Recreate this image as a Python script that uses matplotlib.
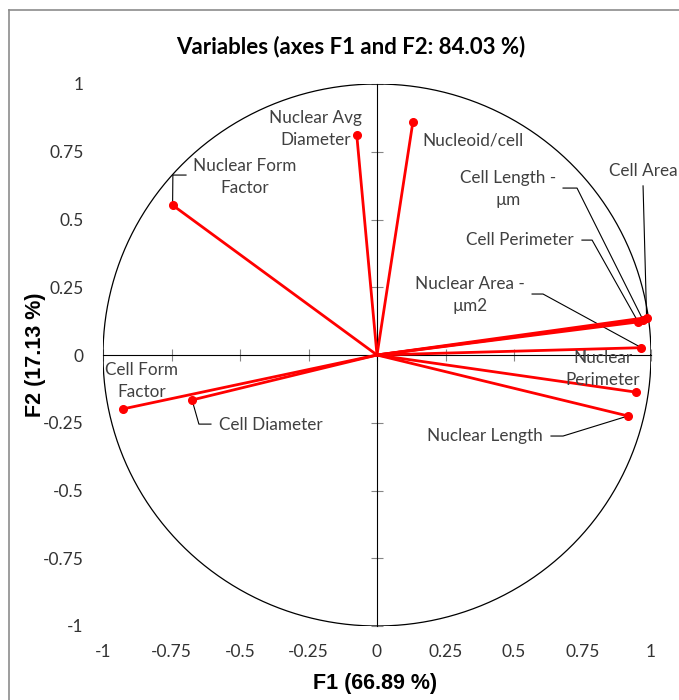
import numpy as np
import matplotlib
matplotlib.use("Agg")
import matplotlib.pyplot as plt
from matplotlib.lines import Line2D

# correlations of each variable with F1 / F2
variables = ["Nucleoid/cell", "Nuclear Avg\nDiameter", "Nuclear Form\nFactor",
             "Cell Form\nFactor", "Cell Diameter", "Cell Area", "Cell Length -\nµm",
             "Cell Perimeter", "Nuclear Area -\nµm2", "Nuclear\nPerimeter", "Nuclear Length"]
f1 = [0.131, -0.074, -0.746, -0.927, -0.675, 0.984, 0.971, 0.953, 0.965, 0.945, 0.916]
f2 = [0.860, 0.813, 0.553, -0.199, -0.166, 0.138, 0.129, 0.122, 0.027, -0.137, -0.225]

ticks = [-1, -0.75, -0.5, -0.25, 0, 0.25, 0.5, 0.75, 1]
tick_labels = ["-1", "-0.75", "-0.5", "-0.25", "0", "0.25", "0.5", "0.75", "1"]

# where the labels sit (data coords) and the bends of the leader lines
label_xy = [(0.350, 0.790), (-0.223, 0.834), (-0.482, 0.657), (-0.858, -0.096),
            (-0.387, -0.258), (0.971, 0.679), (0.478, 0.613), (0.522, 0.424),
            (0.339, 0.221), (0.825, -0.052), (0.394, -0.299)]
leaders = [None, None,
           [(-0.697, 0.664), (-0.745, 0.664)],
           None,
           [(-0.606, -0.255), (-0.650, -0.255)],
           [(0.971, 0.624)],
           [(0.679, 0.616), (0.730, 0.616)],
           [(0.748, 0.424), (0.785, 0.424)],
           [(0.566, 0.225), (0.606, 0.225)],
           None,
           [(0.635, -0.299), (0.679, -0.299)]]

txt_font = ["Lato", "DejaVu Sans"]
ttl_font = ["Liberation Sans", "DejaVu Sans"]
lab_col = "#404040"
axis_col = "#868686"

fig = plt.figure(figsize=(6.79, 7.0), dpi=100)
ax = fig.add_axes([103 / 679, 74 / 700, 548 / 679, 542 / 700])
ax.set_xlim(-1, 1)
ax.set_ylim(-1, 1)
for s in ax.spines.values():
    s.set_visible(False)

ax.set_xticks(ticks)
ax.set_yticks(ticks)
ax.set_xticklabels(tick_labels, family=txt_font, fontsize=12.5, color="#333333")
ax.set_yticklabels(tick_labels, family=txt_font, fontsize=12.5, color="#333333")
ax.tick_params(axis="x", length=0, pad=13)
ax.tick_params(axis="y", length=0, pad=14)

# axes crossing at the origin
sx = ax.secondary_xaxis(0.5)
sx.set_xticks(ticks)
sx.set_xticklabels([])
sx.tick_params(direction="inout", length=8, color=axis_col, width=0.8)
sx.spines["bottom"].set_color(axis_col)
sx.spines["bottom"].set_linewidth(0.8)
sy = ax.secondary_yaxis(0.5)
sy.set_yticks(ticks)
sy.set_yticklabels([])
sy.tick_params(direction="inout", length=8, color=axis_col, width=0.8)
sy.spines["left"].set_color(axis_col)
sy.spines["left"].set_linewidth(0.8)

# unit circle
t = np.linspace(0, 2 * np.pi, 400)
ax.plot(np.cos(t), np.sin(t), color="black", lw=0.9, zorder=2)

for i in range(len(variables)):
    ax.plot([0, f1[i]], [0, f2[i]], color="#ff0000", lw=2.0, zorder=3,
             solid_capstyle="round")
    ax.plot(f1[i], f2[i], "o", color="#ff0000", ms=5.5, zorder=4)
    if leaders[i] is not None:
        pts = leaders[i] + [(f1[i], f2[i])]
        ax.plot([p[0] for p in pts], [p[1] for p in pts], color="black",
                lw=0.8, zorder=2.5)
    ax.text(label_xy[i][0], label_xy[i][1], variables[i], ha="center", va="center",
            family=txt_font, fontsize=12.3, color=lab_col, linespacing=1.45, zorder=5)

fig.text(351 / 679, 1 - 47 / 700, "Variables (axes F1 and F2: 84.03 %)", ha="center",
         va="center", family=txt_font, fontsize=16, fontweight="bold", color="black")
fig.text(375 / 679, 1 - 683 / 700, "F1 (66.89 %)", ha="center", va="center",
         family=ttl_font, fontsize=15.5, fontweight="bold")
fig.text(35 / 679, 1 - 355 / 700, "F2 (17.13 %)", ha="center", va="center",
         rotation=90, family=ttl_font, fontsize=15.5, fontweight="bold")

# chart frame
fig.add_artist(Line2D([9 / 679, 9 / 679], [0, 1 - 10 / 700], color="#8c8c8c", lw=1.2,
                      transform=fig.transFigure))
fig.add_artist(Line2D([9 / 679, 1], [1 - 10 / 700, 1 - 10 / 700], color="#8c8c8c",
                      lw=1.2, transform=fig.transFigure))

fig.savefig("out.png", dpi=100, facecolor="white")
